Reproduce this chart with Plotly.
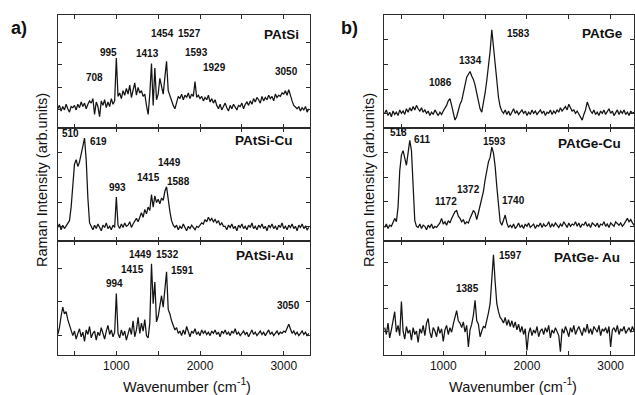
import plotly.graph_objects as go

# ---------------- data ----------------
# common wavenumber grid: 300 .. 3300 cm-1, step 20
wn_start, wn_step = 300, 20

# Panel a)
PAtSi = [17,20,15,19,16,21,17,14,19,18,
         20,16,21,18,23,19,22,17,21,24,
         22,26,12,23,19,10,24,20,25,18,
         23,19,26,21,24,
         62,
         28,31,26,33,29,35,30,38,27,34,40,29,36,31,33,28,30,20,12,
         30,57,20,53,25,30,44,35,30,45,59,33,28,24,20,17,
         24,28,26,30,25,29,27,31,26,30,28,41,27,29,
         26,28,24,27,25,29,23,26,22,25,
         20,17,21,16,19,22,18,15,20,17,21,18,16,20,19,22,17,21,23,20,
         24,21,26,23,27,25,22,28,24,27,25,29,26,28,24,30,27,29,28,31,
         30,33,29,34,28,24,
         20,18,17,19,15,18,16,19,14,17]

PAtSi_Cu = [12,15,10,14,11,13,16,
            18,30,52,68,72,66,70,76,84,91,72,38,16,
            13,10,14,11,15,12,9,14,12,16,11,13,10,14,12,
            39,
            14,11,15,12,16,13,14,17,12,15,18,20,17,22,
            25,21,28,24,30,27,
            41,30,40,34,37,33,38,36,44,48,35,26,18,14,
            12,14,10,13,11,15,12,9,13,11,14,12,10,13,12,
            14,16,15,19,17,21,18,20,17,19,16,18,14,16,13,
            13,10,14,12,15,11,13,9,14,12,
            15,11,13,10,14,12,16,11,13,10,
            14,12,15,11,13,9,14,12,15,11,
            13,10,14,12,16,11,13,10,14,12,
            15,11,13,9,14,12,15,11,13,10,12]

PAtSi_Au = [18,24,34,42,36,38,31,26,22,17,
            21,14,19,23,16,20,12,22,18,25,15,19,21,13,20,17,24,19,14,21,26,18,22,16,20,
            54,
            19,15,22,17,21,13,20,24,18,30,16,22,33,19,28,21,31,17,15,
            28,80,45,64,29,34,44,52,42,60,73,40,36,30,25,22,
            24,19,21,17,22,18,25,20,16,21,19,23,18,20,17,22,19,21,18,
            20,17,21,19,22,18,20,16,21,19,
            22,18,20,17,21,19,23,18,20,17,
            19,21,18,20,16,19,22,18,20,17,
            19,21,18,20,17,19,22,18,20,17,
            19,21,18,20,19,21,20,
            24,27,23,
            19,21,18,20,17,19,21,18,20,17,19]

# Panel b)
PAtGe = [13,16,11,14,10,15,12,14,11,16,13,15,12,17,14,
         18,15,19,16,20,17,15,18,14,16,
         13,15,11,14,12,16,13,11,14,12,15,17,20,
         24,26,20,12,7,10,17,21,24,30,
         38,45,48,50,46,43,38,30,24,17,
         14,22,31,42,54,68,87,72,58,40,
         27,19,15,
         13,16,12,15,11,14,17,13,15,12,
         14,16,13,15,11,14,12,16,13,15,
         12,14,16,13,15,11,14,13,16,12,
         15,13,16,14,18,15,17,19,16,21,
         18,15,16,13,15,12,10,7,12,16,
         23,18,15,13,16,12,14,11,15,13,
         16,12,14,17,13,15,11,14,16,12,
         15,13,16,12,14,11,15,13,14,12]

PAtGe_Cu = [12,15,11,14,13,16,
            20,17,30,62,76,80,72,67,78,89,80,45,18,13,
            12,15,11,14,13,10,14,12,15,11,13,12,14,16,
            20,15,17,14,18,16,20,23,26,27,
            22,20,17,19,15,17,16,20,24,27,
            25,19,25,31,36,44,54,62,70,74,
            83,78,66,48,28,17,14,18,23,16,
            12,
            14,12,15,11,13,16,12,14,11,15,
            13,16,12,14,15,11,14,13,16,12,
            15,13,14,17,12,15,13,16,14,12,
            15,13,17,14,12,16,13,15,14,17,
            13,16,12,15,14,17,13,15,12,16,
            14,13,16,12,15,14,17,13,15,12,
            16,14,13,17,15,14,16,13,15,18,
            20,17,19,16,14,15]

PAtGe_Au = [24,18,28,15,22,30,38,20,26,17,47,21,14,25,19,
            22,13,24,18,21,11,23,19,26,17,28,32,20,15,24,
            21,16,25,19,23,12,22,26,18,24,20,27,33,39,30,
            28,24,29,20,26,7,22,27,35,48,
            30,27,16,21,25,24,30,37,45,70,
            88,64,45,38,33,31,
            28,33,26,31,25,30,24,29,22,27,20,25,18,23,
            4,19,
            24,17,22,19,25,16,21,23,18,24,
            20,26,15,22,19,24,21,17,3,23,
            19,25,21,16,24,20,26,18,22,25,
            21,17,24,20,27,19,23,18,25,22,
            20,26,17,23,21,24,19,25,7,22,
            24,20,26,18,23,21,25,19,22,24,
            20,25,21,23]

sample_names = ["PAtSi", "PAtSi-Cu", "PAtSi-Au", "PAtGe", "PAtGe-Cu", "PAtGe- Au"]
spectra = [PAtSi, PAtSi_Cu, PAtSi_Au, PAtGe, PAtGe_Cu, PAtGe_Au]

x_major_ticks = [1000, 2000, 3000]
x_minor_ticks = [500, 1500, 2500]

# ---------------- layout geometry ----------------
W, H = 635, 395
def px(x):
    return x / W
def py(y):
    return 1 - y / H

col_dom = [[px(58), px(310)], [px(384), px(634)]]
col_range = [[303, 3314], [292, 3279]]
row_dom = [[py(128), py(15)], [py(241), py(128)], [py(355), py(241)]]
y_ticks = [[16, 36, 56.6, 76], [13, 34.5, 56.6, 78], [17.5, 46.5, 76.3],
           [13, 34.5, 56.6, 78.5], [13, 35, 56, 78], [21, 41, 61.4, 81]]

FONT = "Arial, Liberation Sans, sans-serif"
FRAME = "#2b2b2b"

fig = go.Figure()
layout = {}
for i, (name, ys) in enumerate(zip(sample_names, spectra)):
    col, row = divmod(i, 3)
    n = i + 1
    xs = [wn_start + wn_step * k for k in range(len(ys))]
    fig.add_trace(go.Scatter(
        x=xs, y=ys, mode="lines", name=name,
        line=dict(color="#141414", width=1.25),
        xaxis=f"x{n}", yaxis=f"y{n}", showlegend=False, hoverinfo="skip"))
    xa = dict(domain=col_dom[col], range=col_range[col], anchor=f"y{n}",
              showline=True, linecolor=FRAME, linewidth=1, mirror="allticks",
              ticks="inside", ticklen=4, tickcolor=FRAME, tickwidth=1,
              tickvals=x_major_ticks,
              minor=dict(tickvals=x_minor_ticks, ticks="inside", ticklen=4,
                         tickcolor=FRAME, tickwidth=1, showgrid=False),
              showticklabels=(row == 2), showgrid=False, zeroline=False,
              tickfont=dict(family=FONT, size=12, color="#111"))
    ya = dict(domain=row_dom[row], range=[0, 100], anchor=f"x{n}",
              showline=True, linecolor=FRAME, linewidth=1, mirror="allticks",
              ticks="inside", ticklen=4, tickcolor=FRAME, tickwidth=1,
              tickvals=y_ticks[i], showticklabels=False,
              showgrid=False, zeroline=False)
    layout[f"xaxis{n}"] = xa
    layout[f"yaxis{n}"] = ya

annotations = []
def lab(text, x, y, size=10, bold=True, angle=0, anchor="center"):
    t = f"<b>{text}</b>" if bold else text
    annotations.append(dict(text=t, x=px(x), y=py(y), xref="paper", yref="paper",
                            xanchor=anchor, yanchor="middle", showarrow=False,
                            textangle=angle, borderpad=0, borderwidth=0,
                            font=dict(family=FONT, size=size, color="#111")))

# panel letters
lab("a)", 19, 28, size=18)
lab("b)", 349, 28, size=18)

# sample names
for (txt, x, y) in [("PAtSi", 281, 34), ("PAtSi-Cu", 264, 140), ("PAtSi-Au", 265, 255),
                    ("PAtGe", 602, 33), ("PAtGe-Cu", 589, 144), ("PAtGe- Au", 587, 257)]:
    lab(txt, x, y, size=13.5)

# peak labels
peaks = [("1454", 162, 33), ("1527", 189, 33), ("995", 108, 52), ("1413", 147, 53),
         ("1593", 196, 52), ("708", 94, 77), ("1929", 214, 67), ("3050", 286, 72),
         ("510", 70, 133), ("619", 98, 141), ("1449", 169, 162), ("1415", 148, 178),
         ("1588", 178, 181), ("993", 117, 187),
         ("1449", 140, 254), ("1532", 167, 254), ("1415", 132, 269), ("1591", 182, 270),
         ("994", 114, 283), ("3050", 288, 305),
         ("1583", 518, 33), ("1334", 470, 60), ("1086", 440, 82),
         ("518", 398, 132), ("611", 423, 139), ("1593", 494, 142), ("1372", 468, 189),
         ("1172", 446, 202), ("1740", 513, 200),
         ("1597", 511, 255), ("1385", 467, 288)]
for t, x, y in peaks:
    lab(t, x, y, size=10)

# axis titles: "Wavenumber (cm" + superscript "-1" + ")"
for cx in (186, 512):
    start = cx - 64
    lab("Wavenumber (cm", start + 114.5, 387, size=14.5, bold=False, anchor="right")
    lab("-1", start + 114.8, 381, size=10.5, bold=False, anchor="left")
    lab(")", start + 124.0, 387, size=14.5, bold=False, anchor="left")
for cx in (42, 369):
    lab("Raman Intensity (arb.units)", cx, 180, size=14.5, bold=False, angle=-90)

fig.update_layout(width=W, height=H, margin=dict(l=0, r=0, t=0, b=0),
                  paper_bgcolor="white", plot_bgcolor="white",
                  annotations=annotations, **layout)

fig.write_html("out.html")
